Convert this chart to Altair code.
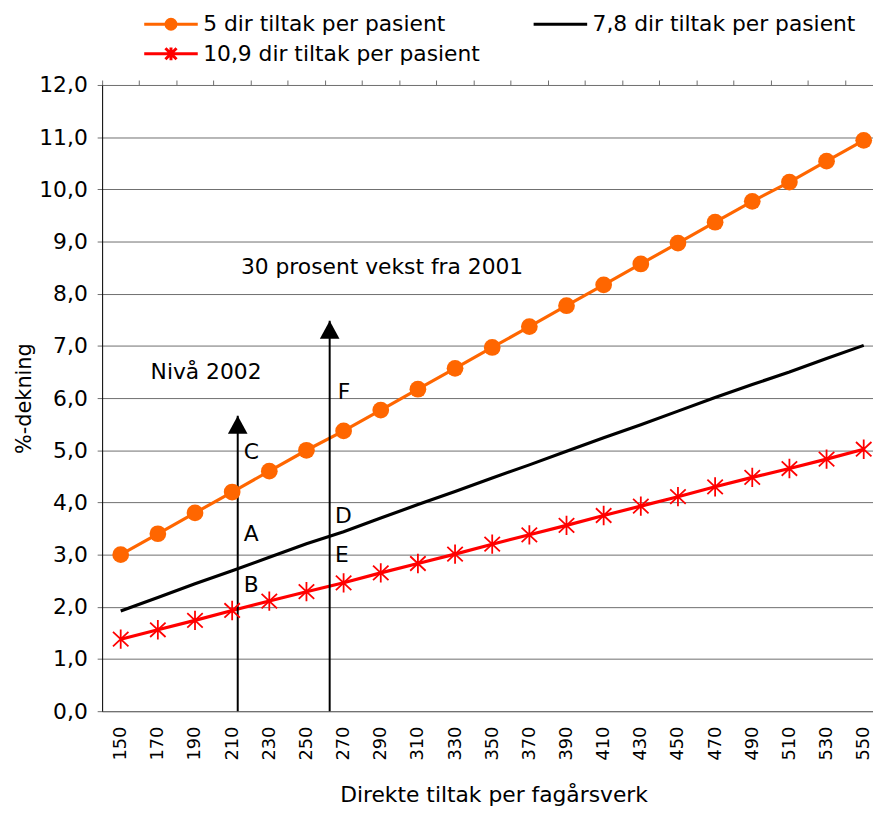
import altair as alt
import pandas as pd

# ---- data ----
x_cats = [150, 170, 190, 210, 230, 250, 270, 290, 310, 330, 350,
          370, 390, 410, 430, 450, 470, 490, 510, 530, 550]
s_orange = [3.00, 3.40, 3.80, 4.20, 4.60, 5.00, 5.37, 5.77, 6.17, 6.57, 6.97,
            7.37, 7.77, 8.17, 8.57, 8.97, 9.37, 9.77, 10.14, 10.54, 10.94]
s_black = [1.92, 2.18, 2.44, 2.69, 2.95, 3.21, 3.44, 3.70, 3.96, 4.21, 4.47,
           4.72, 4.98, 5.24, 5.49, 5.75, 6.01, 6.26, 6.50, 6.76, 7.01]
s_red = [1.38, 1.56, 1.74, 1.93, 2.11, 2.29, 2.46, 2.65, 2.83, 3.01, 3.20,
         3.38, 3.56, 3.75, 3.93, 4.11, 4.30, 4.48, 4.65, 4.83, 5.02]
series_names = ["5 dir tiltak per pasient", "7,8 dir tiltak per pasient",
                "10,9 dir tiltak per pasient"]
series_colors = ["#FF6600", "#000000", "#FF0000"]

x_tick_between = [140, 160, 180, 200, 220, 240, 260, 280, 300, 320, 340,
                  360, 380, 400, 420, 440, 460, 480, 500, 520, 540]
y_ticks = list(range(0, 13))

arrow_x = [213, 262.5]
arrow_top = [5.66, 7.48]
arrow_base = [0, 0]

note_text = ["30 prosent vekst fra 2001", "Nivå 2002", "C", "A", "B", "F", "D", "E"]
note_x = [214.7, 166.1, 216.3, 216.3, 216.3, 266.8, 265.3, 265.3]
note_y = [8.51, 6.50, 4.96, 3.40, 2.42, 6.12, 3.74, 3.00]

# ---- tables ----
rows = []
for name, vals in zip(series_names, [s_orange, s_black, s_red]):
    for xv, yv in zip(x_cats, vals):
        rows.append({"x": xv, "value": yv, "series": name})
df = pd.DataFrame(rows)
arrows = pd.DataFrame({"x": arrow_x, "top": arrow_top, "base": arrow_base})
notes = pd.DataFrame({"x": note_x, "y": note_y, "text": note_text})
legend_df = pd.DataFrame({"series": series_names})

FONT = "DejaVu Sans"
FS = 22
xscale = alt.Scale(domain=[140, 555], nice=False, zero=False)
yscale = alt.Scale(domain=[0, 12], nice=False)
cscale = alt.Scale(domain=series_names, range=series_colors)

asterisk_path = "M0,-1V1M-0.8,-0.75L0.8,0.75M-0.8,0.75L0.8,-0.75"
triangle_path = "M0,0L1.1,2L-1.1,2Z"

# legend symbols (unit = 14 px): line 54 px wide, marker in the middle
leg_shapes = [
    "M-1.93,0H1.93M0.36,0A0.36,0.36 0 1,1 -0.36,0A0.36,0.36 0 1,1 0.36,0Z",
    "M-1.93,0H1.93",
    "M-1.93,0H1.93M0,-0.46V0.46M-0.4,-0.4L0.4,0.4M-0.4,0.4L0.4,-0.4",
]

y_axis = alt.Axis(
    values=y_ticks, grid=True, gridColor="#6e6e6e", gridWidth=1,
    domainColor="#000000", domainWidth=1, tickColor="#6e6e6e", tickSize=5,
    labelExpr="replace(format(datum.value, '.1f'), '.', ',')",
    labelFontSize=FS, labelFont=FONT, labelColor="#000000", labelPadding=10,
    title="%-dekning", titleFontSize=21, titleFont=FONT, titleFontWeight="normal",
    titleColor="#000000", titlePadding=4,
)
x_axis_labels = alt.Axis(
    values=x_cats, ticks=False, grid=False, domainColor="#6e6e6e",
    labelAngle=270, labelAlign="right", labelBaseline="middle",
    labelFontSize=18, labelFont=FONT, labelColor="#000000", labelPadding=15,
    title="Direkte tiltak per fagårsverk", titleFontSize=FS, titleFont=FONT,
    titleFontWeight="normal", titleColor="#000000", titlePadding=25, titleX=395,
)
x_axis_ticks = alt.Axis(
    values=x_tick_between, labels=False, grid=False, domain=False,
    tickColor="#6e6e6e", tickSize=5, title=None,
)

base = alt.Chart(df)


def series_line(i, axis_x=None, axis_y=None):
    return base.transform_filter(alt.datum.series == series_names[i]).mark_line(
        strokeWidth=3.2, color=series_colors[i]
    ).encode(
        x=alt.X("x:Q", scale=xscale, axis=axis_x),
        y=alt.Y("value:Q", scale=yscale, axis=axis_y),
    )


line_orange = series_line(0, x_axis_labels, y_axis)
line_black = series_line(1)
line_red = series_line(2)

ticks_layer = base.mark_point(opacity=0).encode(
    x=alt.X("x:Q", scale=xscale, axis=x_axis_ticks),
    y=alt.Y("value:Q", scale=yscale, axis=None),
)

orange_pts = base.transform_filter(
    alt.datum.series == series_names[0]
).mark_point(filled=True, shape="circle", size=285, color="#FF6600", opacity=1).encode(
    x=alt.X("x:Q", scale=xscale, axis=None),
    y=alt.Y("value:Q", scale=yscale, axis=None),
)

red_pts = base.transform_filter(
    alt.datum.series == series_names[2]
).mark_point(filled=False, shape=asterisk_path, size=380, color="#FF0000",
             strokeWidth=1.8, opacity=1).encode(
    x=alt.X("x:Q", scale=xscale, axis=None),
    y=alt.Y("value:Q", scale=yscale, axis=None),
)

arrow_lines = alt.Chart(arrows).mark_rule(color="#000000", strokeWidth=2).encode(
    x=alt.X("x:Q", scale=xscale, axis=None),
    y=alt.Y("base:Q", scale=yscale, axis=None),
    y2="top:Q",
)
arrow_heads = alt.Chart(arrows).mark_point(
    shape=triangle_path, size=324, filled=True, color="#000000", opacity=1
).encode(
    x=alt.X("x:Q", scale=xscale, axis=None),
    y=alt.Y("top:Q", scale=yscale, axis=None),
)

texts = alt.Chart(notes).mark_text(
    align="left", baseline="middle", fontSize=FS, font=FONT, color="#000000"
).encode(
    x=alt.X("x:Q", scale=xscale, axis=None),
    y=alt.Y("y:Q", scale=yscale, axis=None),
    text="text:N",
)

leg = alt.Legend(
    orient="none", legendX=54, legendY=-77, columns=2, columnPadding=47,
    direction="horizontal", rowPadding=3, symbolSize=784, symbolStrokeWidth=3,
    symbolOpacity=1, labelFont=FONT, labelFontSize=FS, labelColor="#000000",
    labelLimit=500, labelOffset=17, padding=0, title=None,
)
legend_layer = alt.Chart(legend_df).mark_point(opacity=0, strokeWidth=3, filled=True).encode(
    fill=alt.Fill("series:N", scale=cscale, legend=leg),
    stroke=alt.Stroke("series:N", scale=cscale, legend=leg),
    shape=alt.Shape("series:N", scale=alt.Scale(domain=series_names, range=leg_shapes), legend=leg),
)

chart = alt.layer(
    line_orange, line_black, line_red, ticks_layer, arrow_lines, arrow_heads,
    orange_pts, red_pts, texts, legend_layer
).resolve_axis(x="independent", y="independent").properties(
    width=778, height=632,
    autosize=alt.AutoSizeParams(type="none"),
    padding={"left": 95, "top": 74, "right": 0, "bottom": 92},
    background="#ffffff",
).configure_view(strokeWidth=0).configure(font=FONT)

chart.save("out.html", embed_options={"renderer": "svg", "actions": False})
